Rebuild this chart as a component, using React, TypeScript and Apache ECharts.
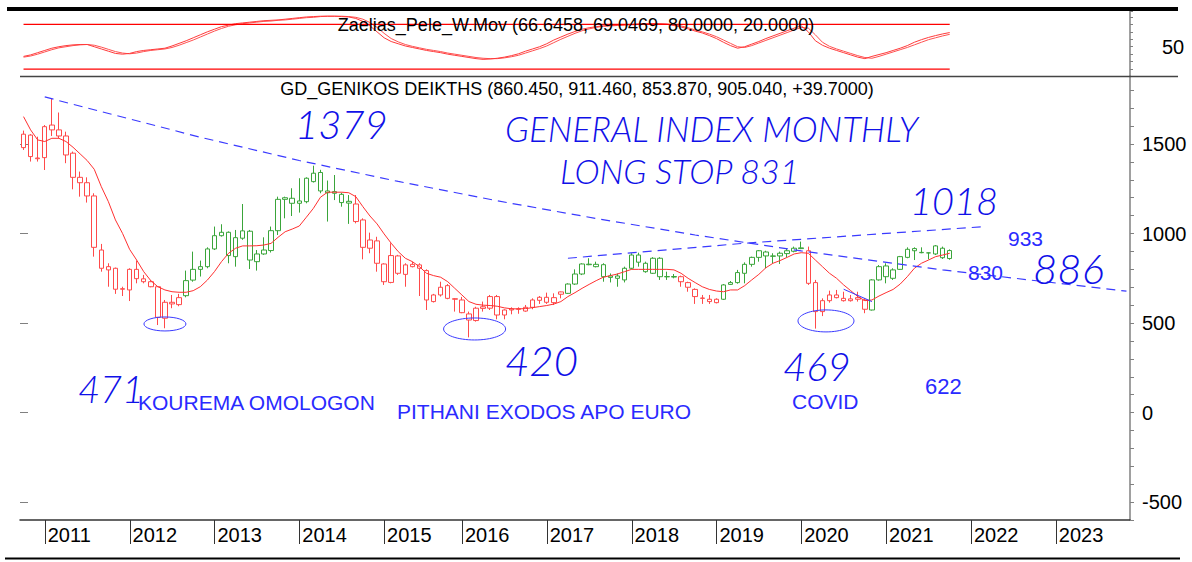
import React, { useEffect, useRef } from 'react';
import * as echarts from 'echarts';

// ---------- categories (monthly bars; July 2015 had no trading) ----------
const categories: string[] = [];
for (let y = 2010; y <= 2023; y++) {
  for (let m = 1; m <= 12; m++) {
    if (y === 2010 && m < 10) continue;
    if (y === 2023 && m > 11) continue;
    if (y === 2015 && m === 7) continue;
    categories.push(`${y}-${String(m).padStart(2, '0')}`);
  }
}

// ---------- OHLC (Oct 2010 .. Oct 2021) ----------
const open = [1480,1550,1418,1424,1606,1579,1545,1449,1314,1284,1210,908,797,806,689,685,800,747,731,703,527,616,603,653,740,800,815,914,988,1007,871,974,1013,
  843,886,905,1016,1191,1197,1169,1178,1290,1341,1238,1234,1219,1180,1165,1076,918,959,830,727,875,772,815,825,793,620,657,709,636,629,551,514,582,583,648,
  545,573,577,567,588,627,644,614,661,666,718,774,826,815,826,763,763,741,806,880,834,778,862,760,760,759,726,688,640,633,614,633,716,
  726,778,828,867,897,875,875,888,901,916,904,726,564,625,657,638,625,642,629,573,741,819,750,800,867,916,895,892,886,918,860.45];
const high = [1575,1555,1541,1606,1756,1676,1569,1458,1346,1314,1225,942,834,810,703,806,849,769,740,705,629,657,663,793,899,849,923,1039,1052,1012,1020,1165,1020,
  908,979,1039,1206,1206,1253,1309,1314,1379,1356,1296,1327,1228,1215,1215,1085,1005,982,834,946,881,834,843,834,800,663,731,718,640,646,564,591,620,657,657,
  577,588,588,601,638,651,670,666,676,722,800,834,862,843,834,777,777,815,890,893,843,868,868,787,774,765,731,694,657,657,638,718,735,
  797,839,871,908,904,890,899,918,927,955,927,741,638,681,685,675,657,675,638,745,824,834,806,875,923,923,923,893,936,927,911.46];
const low = [1467,1402,1402,1355,1545,1532,1393,1247,1206,1173,871,787,703,663,651,623,722,722,700,489,471,583,594,644,731,760,806,908,983,834,815,965,802,
  793,881,894,992,1085,1098,1117,1169,1285,1225,1067,1187,1150,1054,1057,856,890,787,713,722,769,703,811,651,573,615,648,633,564,555,420,508,564,573,521,
  521,549,552,563,577,607,607,601,638,663,713,768,823,811,731,727,703,727,800,815,781,774,741,741,750,703,675,607,607,607,610,629,713,
  720,722,815,843,806,834,830,868,895,913,713,469,539,614,638,620,620,620,555,570,737,722,741,797,862,852,890,856,880,858,853.87];
const close = [1555,1430,1422,1597,1579,1545,1439,1314,1284,1210,923,806,815,689,692,800,748,731,703,532,616,607,642,737,800,815,914,988,1007,877,977,1015,852,
  886,908,1016,1191,1200,1169,1182,1309,1337,1238,1228,1225,1173,1170,1067,923,964,834,731,877,778,825,828,806,629,657,700,638,633,558,517,583,591,648,545,
  573,579,580,588,629,644,616,642,674,718,774,830,829,828,759,755,750,806,880,840,787,862,759,758,757,731,700,648,638,620,633,713,726,
  782,828,867,904,875,873,890,904,918,920,722,564,625,657,642,625,635,633,577,741,815,759,797,871,912,904,893,892,931,865,905.04];
// trend colouring of each bar (R = falling phase, G = rising phase)
const trend =
  'RRRRRRRRRRRRRRRRRRRRRRR' +
  'GGGGGGGGGGGGGGGGGGGGGGGG' +
  'RRRRRRRRRRRRRRRRRRRRRRRRRRRRRR' +
  'GGGGGGGGGGGGGGGG' +
  'RRRRRR' +
  'GGGGGGGGGGGG' +
  'RRRRRRRRR' +
  'GGGGGGGGGGGG';

// red moving average
const movAvg = [1653,1579,1523,1514,1532,1532,1514,1482,1445,1408,1359,1262,1178,1076,1001,912,852,787,737,703,685,675,672,672,681,703,740,787,843,890,918,931,931,
  932,936,945,979,1010,1025,1042,1091,1141,1203,1231,1231,1231,1228,1206,1150,1098,1054,998,946,899,862,843,815,778,765,756,731,694,657,620,605,600,598,594,
  585,580,579,581,586,592,598,606,620,648,670,694,716,737,756,765,774,787,800,800,800,800,800,800,797,778,750,726,703,688,679,675,685,
  685,709,741,772,809,834,849,867,886,893,890,852,815,778,750,713,681,648,625,629,651,670,688,718,759,806,834,852,871,880,890];

// Zaelias_Pele_W.Mov indicator (two lines) and its levels
const indFast = [37,39,42,45,48,50,51.5,52.5,53,53, 50,47,44,41,40,41,43.5,45,46,47, 48,51,54.5,58,62,66,70,73.5,77,79,
  81,82,83,84,85,85.5,86,87,88,89, 90,90.5,91,91,91,90.5,90,88,84,78, 70,62,57,54,51,49,47,45,43.5,42,
  40,38.5,37,35.5,34,33,33.5,34.5,36,38, 40.5,44,47,50,54,59,63,67,70.5,73.5, 75.5,77,78,78.5,79,79.5,80,80.5,81,81,
  80.5,80,78.5,76.5,74,71,68.5,65,61,56, 51.5,48,50,53.5,57,61,64.5,68,71.5,75, 78,70,58,52,48,45,42,39,36,34,
  37,39.5,42,45,48,51.5,56,59.5,62.5,65, 67.2,69.0469];
const indSlow = [36,37.5,40,43,46,48.5,50,51.5,52.5,53, 52,49.5,46.5,43.5,41.5,40.5,41.5,43.5,45,46, 47,49,52,55.5,59,63,67,71,74.5,77.5,
  79.5,81,82,83,84,84.5,85.5,86,87,88, 89,89.5,90.5,91,91,91,90.5,89.5,87,82.5, 76,68,61,56.5,53,50.5,48.5,46.5,45,43.5,
  41.5,40,38.5,37,35.5,34.5,34,34,35,36.5, 38.5,41.5,44.5,47.5,51,55.5,60,64,68,71.5, 74,76,77.5,78,78.5,79,79.5,80,80.5,81,
  81,80.5,79.5,78,75.5,72.5,70,67,63.5,59, 54.5,50,49,51.5,55,58.5,62,65.5,69,72.5, 76,75,66,56,50.5,47,44,41,38,35.5,
  34.5,37,40,43,46,49,52.5,56,59.5,62, 64.5,66.6458];
const upperLevel = 80;
const lowerLevel = 20;

// hand-drawn trend lines: [bar index, price]
const longDownTrend = [[3,1763],[25,1538],[39,1408],[53,1291],[67,1183],[81,1084],[95,992],[110,903],[130,797],[156,678]];
const risingTrend = [[77,862],[102,946],[136,1039]];
const shortDownTrend = [[116,689],[120,620]];
// circled lows: [bar index, price, radiusX, radiusY]
const circledLows = [[20,495,21,7],[63.8,467,31,11],[113.5,512,28,11]];

// text annotations
const handNotes = [
  { t: '1379', x: 295, y: 124, s: 40 },
  { t: 'GENERAL INDEX MONTHLY', x: 505, y: 128, s: 35 },
  { t: 'LONG STOP 831', x: 560, y: 170, s: 34 },
  { t: '1018', x: 910, y: 200, s: 38 },
  { t: '886', x: 1033, y: 268, s: 42 },
  { t: '420', x: 505, y: 360, s: 42 },
  { t: '471', x: 78, y: 388, s: 38 },
  { t: '469', x: 783, y: 366, s: 40 },
];
const plainNotes = [
  { t: 'KOUREMA OMOLOGON', x: 138, y: 402, s: 21 },
  { t: 'PITHANI EXODOS APO EURO', x: 397, y: 411, s: 21 },
  { t: 'COVID', x: 792, y: 401, s: 21 },
  { t: '622', x: 925, y: 386, s: 22 },
  { t: '933', x: 1008, y: 238, s: 21 },
  { t: '830', x: 968, y: 272, s: 21 },
];
const indTitle = 'Zaelias_Pele_W.Mov (66.6458, 69.0469, 80.0000, 20.0000)';
const priceTitle = 'GD_GENIKOS DEIKTHS (860.450, 911.460, 853.870, 905.040, +39.7000)';

const RED = '#ff0000';
const GREEN = '#008000';
const RED_H = '#ff4a4a';
const GREEN_H = '#3aa53a';
const BLUE = '#2a2aff';
const SANS = '"Liberation Sans", Arial, sans-serif';
const HAND = 'Lato, "DejaVu Sans", sans-serif';

const GL = 20, GR = 62;
const MAIN_TOP = 76, MAIN_H = 444, Y_MIN = -600, Y_MAX = 1880;
const yPix = (v: number) => MAIN_TOP + ((Y_MAX - v) / (Y_MAX - Y_MIN)) * MAIN_H;

export default function App() {
  const ref = useRef<HTMLDivElement>(null);
  useEffect(() => {
    if (!ref.current) return;
    const chart = echarts.init(ref.current, undefined, { renderer: 'svg' });

    const candles = open.map((o, i) => {
      const g = trend[i] === 'G';
      const solid = g ? GREEN : RED;
      const hollow = g ? GREEN_H : RED_H;
      return {
        value: [o, close[i], low[i], high[i]],
        itemStyle: { color: '#ffffff', borderColor: hollow, color0: solid, borderColor0: solid, borderWidth: 1 },
      };
    });
    const isJan = (_i: number, v: string) => String(v).endsWith('-01');

    const option: any = {
      animation: false,
      backgroundColor: '#ffffff',
      grid: [
        { left: GL, right: GR, top: 11, height: 65.5 },
        { left: GL, right: GR, top: MAIN_TOP, height: MAIN_H },
        { left: GL, right: GR, top: yPix(1500), height: yPix(-500) - yPix(1500) },
      ],
      xAxis: [
        { gridIndex: 0, type: 'category', data: categories, show: false },
        {
          gridIndex: 1, type: 'category', data: categories,
          axisLine: { onZero: false, lineStyle: { color: '#333', width: 1.5 } },
          axisTick: { show: false },
          axisLabel: {
            interval: isJan, formatter: (v: string) => v.slice(0, 4), align: 'left', margin: 5,
            padding: [0, 0, 0, 3], fontSize: 20, color: '#000', fontFamily: SANS, hideOverlap: false,
          },
          splitLine: { show: false },
        },
        { gridIndex: 2, type: 'value', show: false, min: 0, max: 1 },
      ],
      yAxis: [
        {
          gridIndex: 0, type: 'value', position: 'right', min: 10, max: 98, interval: 10,
          axisLine: { show: true, lineStyle: { color: '#808080', width: 1.5 } },
          axisTick: { show: true, length: 3, lineStyle: { color: '#808080' } },
          axisLabel: { formatter: (v: number) => (v === 50 ? '50' : ''), margin: 32, fontSize: 20, color: '#000', fontFamily: SANS },
          splitLine: { show: false },
        },
        {
          gridIndex: 1, type: 'value', position: 'right', min: Y_MIN, max: Y_MAX, interval: 100,
          axisLine: { show: true, lineStyle: { color: '#808080', width: 1.5 } },
          axisTick: { show: true, length: 4, lineStyle: { color: '#808080' } },
          axisLabel: { show: false },
          splitLine: { show: false },
        },
        {
          gridIndex: 2, type: 'value', position: 'right', min: -500, max: 1500, interval: 500,
          axisLine: { show: false },
          axisTick: { show: true, length: 8, lineStyle: { color: '#808080' } },
          axisLabel: { formatter: (v: number) => String(v), margin: 12, fontSize: 20, color: '#000', fontFamily: SANS },
          splitLine: { show: false },
        },
      ],
      series: [
        { type: 'line', xAxisIndex: 0, yAxisIndex: 0, data: indSlow, symbol: 'none', lineStyle: { color: '#ff5050', width: 1 } },
        { type: 'line', xAxisIndex: 0, yAxisIndex: 0, data: indFast, symbol: 'none', lineStyle: { color: '#ff3a3a', width: 1 } },
        { type: 'line', xAxisIndex: 0, yAxisIndex: 0, data: [[0, upperLevel], [open.length - 1, upperLevel]], symbol: 'none', lineStyle: { color: RED, width: 1.2 } },
        { type: 'line', xAxisIndex: 0, yAxisIndex: 0, data: [[0, lowerLevel], [open.length - 1, lowerLevel]], symbol: 'none', lineStyle: { color: RED, width: 1.2 } },
        { type: 'candlestick', xAxisIndex: 1, yAxisIndex: 1, data: candles, barWidth: 5 },
        { type: 'line', xAxisIndex: 1, yAxisIndex: 1, data: movAvg, symbol: 'none', lineStyle: { color: '#ff3030', width: 1 }, z: 3 },
        { type: 'line', xAxisIndex: 1, yAxisIndex: 1, data: longDownTrend, symbol: 'none', lineStyle: { color: '#3a3aff', width: 1.2, type: [9, 6] }, z: 4 },
        { type: 'line', xAxisIndex: 1, yAxisIndex: 1, data: risingTrend, symbol: 'none', lineStyle: { color: '#3a3aff', width: 1.2, type: [9, 6] }, z: 4 },
        { type: 'line', xAxisIndex: 1, yAxisIndex: 1, data: shortDownTrend, symbol: 'none', lineStyle: { color: '#3a3aff', width: 1 }, z: 4 },
      ],
    };
    chart.setOption(option);

    const px = (idx: number, v: number) => {
      const a = Math.floor(idx), b = Math.ceil(idx);
      const pa = chart.convertToPixel({ gridIndex: 1 } as any, [a, v]) as number[];
      const pb = chart.convertToPixel({ gridIndex: 1 } as any, [b, v]) as number[];
      const f = idx - a;
      return [pa[0] + (pb[0] - pa[0]) * f, pa[1]];
    };
    const axisY = MAIN_TOP + MAIN_H;

    const graphic: any[] = [
      { type: 'rect', shape: { x: 7, y: 7, width: 1171, height: 4 }, style: { fill: '#000' }, z: 50 },
      { type: 'line', shape: { x1: 20, y1: 76.5, x2: 1178, y2: 76.5 }, style: { stroke: '#444', lineWidth: 1.5 }, z: 50 },
      { type: 'line', shape: { x1: 5, y1: 558.5, x2: 1180, y2: 558.5 }, style: { stroke: '#000', lineWidth: 2 }, z: 50 },
      { type: 'text', x: 576, y: 25, style: { text: indTitle, fill: '#000', fontSize: 18, fontFamily: SANS, align: 'center', verticalAlign: 'middle' }, z: 60 },
      { type: 'text', x: 577, y: 89, style: { text: priceTitle, fill: '#000', fontSize: 18, fontFamily: SANS, align: 'center', verticalAlign: 'middle' }, z: 60 },
    ];
    // year ticks on the time axis
    categories.forEach((c, i) => {
      if (!c.endsWith('-01')) return;
      const p = px(i, 0);
      const x = Math.round(p[0]) + 0.5;
      graphic.push({ type: 'line', shape: { x1: x, y1: axisY, x2: x, y2: axisY + 24 }, style: { stroke: '#333', lineWidth: 1 }, z: 55 });
    });
    circledLows.forEach(([i, v, rx, ry]) => {
      const p = px(i, v);
      graphic.push({ type: 'ellipse', shape: { cx: p[0], cy: p[1], rx, ry }, style: { fill: 'none', stroke: '#3a3aff', lineWidth: 1 }, z: 60 });
    });
    handNotes.forEach((n) => {
      graphic.push({ type: 'text', x: n.x, y: n.y, style: { text: n.t, fill: '#1010e8', fontSize: n.s, lineHeight: n.s, fontFamily: HAND, fontStyle: 'italic', fontWeight: 300, align: 'left', verticalAlign: 'middle' }, z: 60 });
    });
    plainNotes.forEach((n) => {
      graphic.push({ type: 'text', x: n.x, y: n.y, style: { text: n.t, fill: BLUE, fontSize: n.s, lineHeight: n.s, fontFamily: SANS, align: 'left', verticalAlign: 'middle' }, z: 60 });
    });
    chart.setOption({ graphic });

    return () => chart.dispose();
  }, []);

  return <div ref={ref} style={{ position: 'fixed', left: 0, top: 0, width: 1192, height: 562, background: '#fff' }} />;
}
